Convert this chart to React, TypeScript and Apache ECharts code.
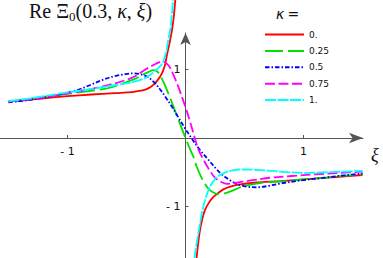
import React, { useEffect, useRef } from "react";
import * as echarts from "echarts";

const kappaLabels = ["0.", "0.25", "0.5", "0.75", "1."];
const colors = ["#ff0000", "#00e000", "#0000ff", "#ff00ff", "#00ffff"];
const dashes: (string | number[])[] = ["solid", [18, 5], [4.5, 2, 1.5, 2], [10, 3.5], [11, 1.5]];

const xTicks = [-1, 1];
const yTicks = [-1, 1];

// kappa = 0
const k0: (number | null)[][] = [
  [-1.5, 0.53], [-1.35, 0.555], [-1.2, 0.58], [-1.0, 0.61], [-0.8, 0.635], [-0.6, 0.655],
  [-0.45, 0.67], [-0.38, 0.69], [-0.32, 0.72], [-0.27, 0.78], [-0.23, 0.86], [-0.2, 0.945],
  [-0.175, 1.06], [-0.16, 1.19], [-0.145, 1.31], [-0.13, 1.43], [-0.115, 1.57], [-0.1, 1.76],
  [-0.085, 2.05], [0, null],
  [0.085, -2.0], [0.095, -1.73], [0.11, -1.5], [0.123, -1.34], [0.14, -1.2], [0.165, -1.05],
  [0.2, -0.94], [0.236, -0.86], [0.28, -0.8], [0.32, -0.75], [0.38, -0.71], [0.45, -0.68],
  [0.6, -0.65], [0.8, -0.63], [1.0, -0.605], [1.2, -0.58], [1.35, -0.56], [1.5, -0.54],
];

// kappa = 0.25
const k025: number[][] = [
  [-1.5, 0.53], [-1.35, 0.565], [-1.2, 0.6], [-1.0, 0.645], [-0.8, 0.69], [-0.65, 0.73],
  [-0.5, 0.815], [-0.42, 0.87], [-0.35, 0.935], [-0.3, 0.975], [-0.285, 0.986], [-0.27, 0.99],
  [-0.255, 0.986], [-0.24, 0.972], [-0.225, 0.945], [-0.21, 0.9], [-0.18, 0.79], [-0.15, 0.67],
  [-0.12, 0.54], [-0.09, 0.4], [-0.047, 0.21], [0, 0], [0.04, -0.17], [0.066, -0.27],
  [0.095, -0.42], [0.13, -0.56], [0.165, -0.67], [0.2, -0.75], [0.24, -0.8], [0.28, -0.82],
  [0.33, -0.81], [0.38, -0.78], [0.45, -0.73], [0.52, -0.69], [0.66, -0.65], [0.8, -0.635],
  [1.0, -0.605], [1.2, -0.575], [1.35, -0.55], [1.5, -0.53],
];

// kappa = 0.5
const k05: number[][] = [
  [-1.5, 0.52], [-1.35, 0.55], [-1.2, 0.59], [-1.0, 0.66], [-0.9, 0.71], [-0.8, 0.78],
  [-0.7, 0.85], [-0.6, 0.905], [-0.5, 0.935], [-0.44, 0.945], [-0.38, 0.93], [-0.32, 0.89],
  [-0.27, 0.82], [-0.22, 0.72], [-0.17, 0.6], [-0.12, 0.47], [-0.06, 0.3], [0, 0.13],
  [0.05, 0], [0.12, -0.17], [0.2, -0.33], [0.26, -0.45], [0.3, -0.52], [0.38, -0.62],
  [0.45, -0.68], [0.52, -0.71], [0.6, -0.72], [0.7, -0.7], [0.8, -0.665], [1.0, -0.615],
  [1.2, -0.575], [1.35, -0.545], [1.5, -0.52],
];

// kappa = 0.75
const k075: number[][] = [
  [-1.5, 0.53], [-1.35, 0.56], [-1.2, 0.595], [-1.0, 0.65], [-0.8, 0.715], [-0.65, 0.775],
  [-0.5, 0.85], [-0.42, 0.91], [-0.35, 0.99], [-0.3, 1.04], [-0.25, 1.085], [-0.225, 1.105],
  [-0.2, 1.115], [-0.185, 1.112], [-0.17, 1.1], [-0.155, 1.08], [-0.14, 1.05], [-0.11, 0.95],
  [-0.08, 0.83], [-0.047, 0.68], [0, 0.45], [0.04, 0.23], [0.075, 0.02], [0.11, -0.17],
  [0.15, -0.31], [0.2, -0.46], [0.25, -0.58], [0.3, -0.64], [0.35, -0.67], [0.42, -0.655],
  [0.55, -0.62], [0.72, -0.58], [0.9, -0.555], [1.1, -0.53], [1.3, -0.51], [1.5, -0.49],
];

// kappa = 1
const k1: (number | null)[][] = [
  [-1.5, 0.54], [-1.35, 0.57], [-1.2, 0.61], [-1.0, 0.665], [-0.8, 0.715], [-0.6, 0.77],
  [-0.45, 0.815], [-0.35, 0.87], [-0.3, 0.92], [-0.25, 0.99], [-0.22, 1.04], [-0.19, 1.11],
  [-0.165, 1.25], [-0.146, 1.43], [-0.13, 1.58], [-0.118, 1.75], [-0.105, 2.05], [0, null],
  [0.07, -1.95], [0.077, -1.75], [0.09, -1.58], [0.109, -1.39], [0.13, -1.18], [0.151, -1.0],
  [0.18, -0.83], [0.208, -0.71], [0.25, -0.6], [0.292, -0.54], [0.34, -0.5], [0.377, -0.48],
  [0.46, -0.46], [0.6, -0.465], [0.8, -0.49], [1.0, -0.51], [1.2, -0.5], [1.35, -0.49],
  [1.5, -0.48],
];

const seriesData = [k0, k025, k05, k075, k1];

export default function App() {
  const ref = useRef<HTMLDivElement>(null);
  useEffect(() => {
    if (!ref.current) return;
    const chart = echarts.init(ref.current, undefined, { renderer: "svg" });
    const axisColor = "#555";
    const fmt = (v: number) => (v < 0 ? "- " + Math.abs(v) : String(v));
    const gridLeft = 0, gridTop = 33, gridW = 363, gridH = 225;
    const xMin = -1.572, xMax = 1.504, yMin = -1.752, yMax = 1.533;
    const zeroY = gridTop + gridH * (yMax / (yMax - yMin));
    const zeroX = gridLeft + gridW * (-xMin / (xMax - xMin));
    chart.setOption({
      animation: false,
      grid: { left: gridLeft, top: gridTop, width: gridW, height: gridH, containLabel: false, outerBoundsMode: "none" },
      xAxis: {
        type: "value",
        position: "bottom",
        offset: -(gridTop + gridH - zeroY),
        min: xMin,
        max: xMax,
        splitLine: { show: false },
        axisLine: {
          onZero: false,
          lineStyle: { color: axisColor, width: 1 },
          symbol: ["none", "arrow"],
          symbolSize: [8, 14],
        },
        axisTick: { show: true, inside: true, length: 3, customValues: xTicks, lineStyle: { color: axisColor } },
        axisLabel: {
          customValues: xTicks,
          formatter: fmt,
          margin: 8,
          color: "#111",
          fontFamily: "DejaVu Sans",
          fontSize: 11,
        },
      },
      yAxis: {
        type: "value",
        position: "left",
        offset: -(zeroX - gridLeft),
        min: yMin,
        max: yMax,
        splitLine: { show: false },
        axisLine: {
          onZero: false,
          lineStyle: { color: axisColor, width: 1 },
          symbol: ["none", "arrow"],
          symbolSize: [8, 12],
        },
        axisTick: { show: true, inside: true, length: 3, customValues: yTicks, lineStyle: { color: axisColor } },
        axisLabel: {
          customValues: yTicks,
          formatter: fmt,
          margin: 5,
          color: "#111",
          fontFamily: "DejaVu Sans",
          fontSize: 11,
        },
      },
      legend: {
        orient: "vertical",
        left: 264,
        top: 30,
        padding: 0,
        itemWidth: 39,
        itemHeight: 11,
        itemGap: 7.4,
        data: kappaLabels,
        itemStyle: { opacity: 0 },
        textStyle: { fontFamily: "DejaVu Sans", fontSize: 9, color: "#111" },
      },
      graphic: [
        {
          type: "text",
          left: 29,
          top: 1,
          style: {
            text: "{a|Re Ξ}{s|0}{a|(0.3, }{i|κ}{a|, }{i|ξ}{a|)}",
            rich: {
              a: { fontFamily: "Liberation Serif", fontSize: 20, lineHeight: 23, verticalAlign: "middle", fill: "#111" },
              i: { fontFamily: "Liberation Serif", fontSize: 20, fontStyle: "italic", lineHeight: 23, verticalAlign: "middle", fill: "#111" },
              s: { fontFamily: "Liberation Serif", fontSize: 13, lineHeight: 12, verticalAlign: "bottom", fill: "#111" },
            },
          },
        },
        {
          type: "text",
          left: 276,
          top: 7,
          style: {
            text: "{i|κ} {a|=}",
            rich: {
              i: { fontFamily: "DejaVu Sans", fontSize: 14, fontStyle: "italic", fill: "#111", lineHeight: 16, verticalAlign: "middle" },
              a: { fontFamily: "DejaVu Sans", fontSize: 14, fill: "#111", lineHeight: 16, verticalAlign: "middle" },
            },
          },
        },
        {
          type: "text",
          left: 371,
          top: 146,
          style: { text: "ξ", font: "italic 18px 'Liberation Serif'", fill: "#111" },
        },
      ],
      series: seriesData.map((d, i) => ({
        name: kappaLabels[i],
        type: "line",
        data: d,
        showSymbol: false,
        symbol: "none",
        smooth: 0.35,
        clip: false,
        connectNulls: false,
        lineStyle: { color: colors[i], width: 1.8, type: dashes[i] },
        itemStyle: { color: colors[i] },
      })),
    });
    return () => chart.dispose();
  }, []);
  return <div ref={ref} style={{ position: "absolute", left: 0, top: 0, width: 383, height: 258 }} />;
}
